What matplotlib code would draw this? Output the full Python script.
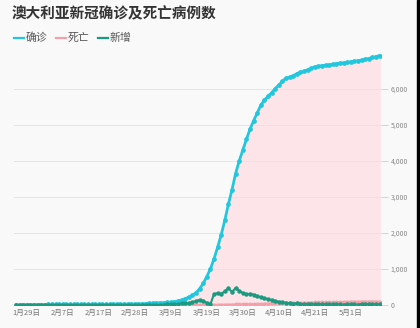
import matplotlib
matplotlib.use('Agg')
import matplotlib.pyplot as plt
from matplotlib.lines import Line2D
from matplotlib.patches import Rectangle

plt.rcParams['font.family'] = ['Noto Sans CJK SC', 'DejaVu Sans']

# daily points, 1月27日 .. 5月7日
confirmed = [5, 5, 7, 9, 9, 12, 12, 12, 13, 14, 15] + [15] * 14 + [
    17, 21, 22, 22, 22, 23, 23, 23, 25, 27, 30, 39, 48, 52, 56, 60, 64, 70,
    75, 90, 110, 140, 175, 220, 270, 340, 450, 600, 790, 1000, 1280, 1600,
    1950, 2350, 2800, 3200, 3650, 4000, 4300, 4600, 4880, 5116, 5330, 5550,
    5687, 5797, 5895, 6010, 6108, 6215, 6303, 6330, 6370, 6425, 6460, 6490,
    6535, 6575, 6615, 6630, 6650, 6660, 6670, 6685, 6700, 6715, 6725, 6740,
    6755, 6770, 6785, 6805, 6825, 6847, 6875, 6900, 6930]

deaths = [0] * 34 + [
    1, 1, 1, 2, 2, 2, 2, 3, 3, 3, 3, 3, 3, 3, 3, 5, 5, 6, 6, 7, 7, 7, 7, 8,
    8, 13, 13, 14, 16, 18, 19, 21, 24, 28, 30, 35, 40, 45, 50, 51, 54, 57,
    60, 61, 61, 63, 63, 66, 67, 71, 71, 74, 75, 77, 79, 83, 83, 83, 89, 91,
    93, 93, 95, 96, 96, 97, 97, 97]

new_cases = [4, 0, 2, 2, 0, 3, 0, 0, 1, 1, 1] + [0] * 14 + [
    2, 4, 1, 0, 0, 1, 0, 0, 2, 2, 3, 9, 13, 3, 5, 3, 13, 15, 16, 21, 28, 44,
    50, 47, 80, 110, 140, 110, 60, 20, 300, 330, 310, 380, 470, 360, 470,
    400, 330, 300, 310, 290, 240, 220, 190, 160, 140, 110, 90, 80, 60, 50,
    40, 45, 30, 25, 30, 35, 25, 20, 15, 20, 18, 22, 20, 16, 12, 18, 20, 16,
    10, 30, 25, 22, 25, 20, 18]

tick_pos = [3, 13, 23, 33, 43, 53, 63, 73, 83, 93]
tick_labels = ['1月29日', '2月7日', '2月17日', '2月28日', '3月9日',
               '3月19日', '3月30日', '4月10日', '4月21日', '5月1日']

c_conf = '#22c7de'
c_death = '#f5a0a9'
c_new = '#1b9a80'
bg = '#f9f9f9'

x = list(range(len(confirmed)))

fig = plt.figure(figsize=(4.2, 3.28), dpi=100, facecolor=bg)
ax = fig.add_axes([14 / 420, 23 / 328, 367 / 420, 252 / 328])
ax.set_facecolor(bg)

ax.fill_between(x, confirmed, color='#fde4e9', zorder=1)
ax.plot(x, confirmed, color=c_conf, lw=2.0, marker='o', ms=2.4, zorder=3)
ax.plot(x, deaths, color=c_death, lw=1.5, marker='o', ms=1.8, zorder=4)
ax.plot(x, new_cases, color=c_new, lw=1.5, marker='o', ms=2.2, zorder=5)

ax.set_xlim(-0.56, 101.4)
ax.set_ylim(0, 7000)
ax.set_yticks(range(0, 7000, 1000))
ax.set_yticklabels(['0', '1,000', '2,000', '3,000', '4,000', '5,000', '6,000'])
ax.yaxis.tick_right()
ax.tick_params(axis='y', length=5, width=0.6, color='#cccccc', labelsize=5,
               labelcolor='#888888', pad=2)
ax.set_xticks(tick_pos)
ax.set_xticklabels(tick_labels)
ax.tick_params(axis='x', length=0, labelsize=5.5, labelcolor='#777777', pad=3)
ax.grid(axis='y', color='#e4e4e4', lw=0.7, zorder=0)
for s in ['top', 'right', 'left']:
    ax.spines[s].set_visible(False)
ax.spines['bottom'].set_color('#cccccc')
ax.spines['bottom'].set_linewidth(0.6)

fig.text(12 / 420, 1 - 13 / 328, '澳大利亚新冠确诊及死亡病例数', fontsize=10.5,
         fontweight='bold', color='#333333', va='center', ha='left')

legend_items = [('确诊', c_conf, 14), ('死亡', c_death, 56), ('新增', c_new, 98)]
ly = 1 - 38 / 328
for label, col, px in legend_items:
    fig.add_artist(Line2D([px / 420, (px + 10) / 420], [ly, ly], color=col, lw=1.6))
    fig.text((px + 12) / 420, ly, label, fontsize=7.8, color='#555555',
             va='center', ha='left')

fig.add_artist(Rectangle((417 / 420, 0), 3 / 420, 1, transform=fig.transFigure,
                         color='black', zorder=10))

fig.savefig('out.png', dpi=100, facecolor=bg)
